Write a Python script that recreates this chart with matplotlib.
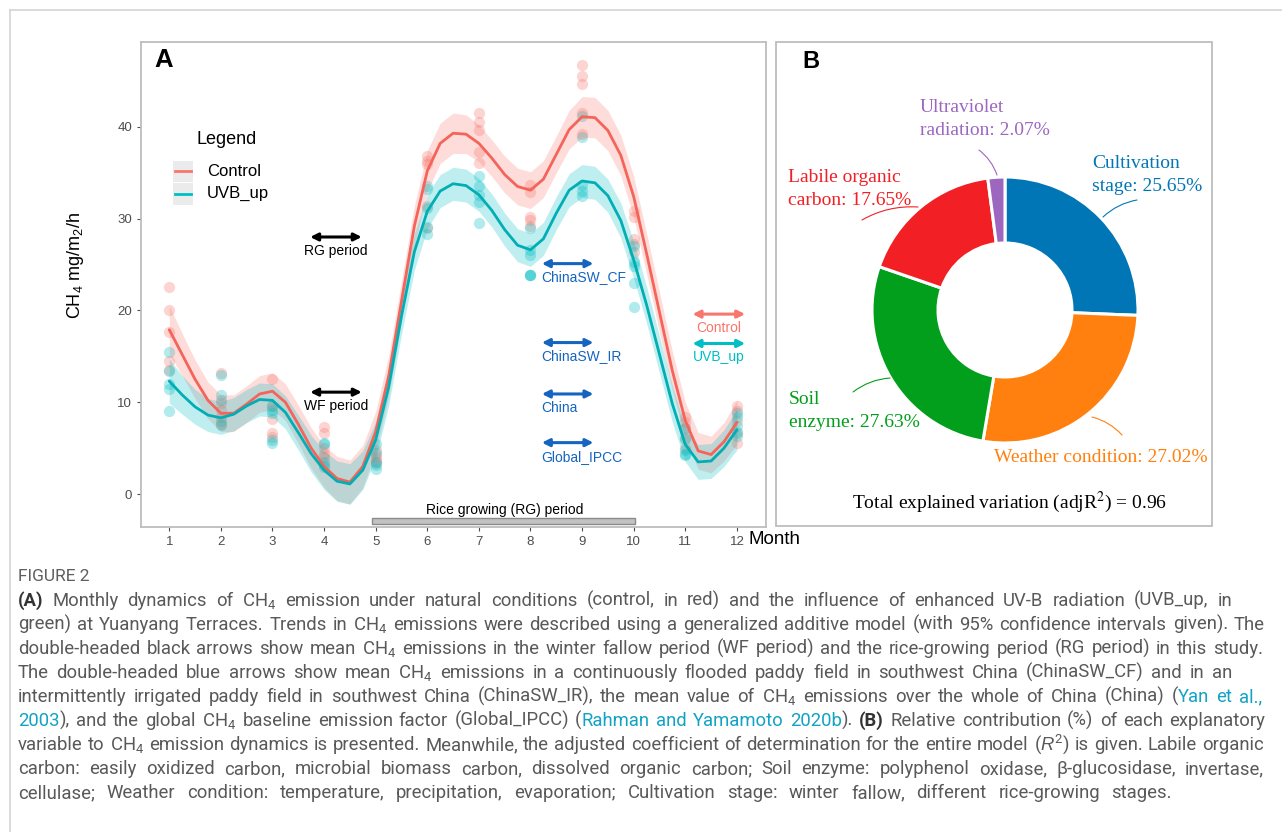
import matplotlib
matplotlib.use("Agg")
import matplotlib.pyplot as plt
import numpy as np
from matplotlib import font_manager as fm
from matplotlib.patches import Rectangle

# ---------------- data ----------------
months = list(range(1, 13))

# monthly CH4 flux observations (mg/m2/h)
control_obs = [
    [22.6, 20.0, 17.6, 14.5, 13.5],
    [13.2, 9.9, 9.2, 8.4, 7.6],
    [12.5, 9.6, 8.2, 6.6, 6.2],
    [7.3, 6.6, 5.0, 4.4, 4.0],
    [4.8, 4.2, 3.9, 3.6, 3.4],
    [36.8, 36.3, 35.9, 31.4, 29.0],
    [41.5, 40.5, 39.6, 37.3, 36.1],
    [33.7, 32.9, 30.2, 29.8, 29.2],
    [46.7, 45.5, 44.7, 41.5, 39.2],
    [30.8, 30.2, 27.8, 27.2, 26.4],
    [8.4, 7.8, 7.2, 6.1, 5.0],
    [9.6, 9.0, 8.0, 6.6, 5.6],
]
uvb_obs = [
    [15.5, 13.4, 12.0, 11.4, 9.1],
    [13.0, 10.8, 10.2, 8.0, 7.5],
    [9.6, 9.2, 8.8, 5.9, 5.6],
    [5.6, 5.4, 3.5, 3.2, 2.9],
    [5.5, 4.5, 3.5, 3.2, 2.7],
    [33.6, 33.2, 31.2, 29.1, 28.3],
    [34.6, 33.5, 32.6, 31.8, 29.5],
    [29.0, 26.6, 26.0, 23.9, 23.9, 23.9],
    [41.2, 38.9, 33.7, 33.0, 32.5],
    [27.0, 25.3, 24.8, 23.0, 20.4],
    [7.2, 6.0, 4.8, 4.4, 4.2],
    [8.8, 8.4, 7.4, 6.8, 6.3],
]

# GAM fits, one value per quarter month from Jan to Dec
fit_month = np.arange(1.0, 12.01, 0.25)
control_fit = [17.9, 15.2, 12.5, 10.2, 8.8, 8.8, 9.8, 10.9, 11.2, 10.0, 7.6, 5.0,
               3.0, 1.7, 1.3, 3.0, 6.8, 12.8, 21.0, 29.2, 35.2, 38.2, 39.3, 39.2,
               38.2, 36.6, 34.8, 33.5, 33.1, 34.3, 37.0, 39.7, 41.1, 41.0, 39.6,
               36.9, 32.4, 26.2, 19.8, 13.4, 8.0, 4.7, 4.3, 5.7, 7.8]
uvb_fit = [12.3, 10.8, 9.5, 8.6, 8.3, 8.7, 9.6, 10.3, 10.2, 8.9, 6.7, 4.4,
           2.6, 1.4, 1.1, 2.6, 5.9, 11.6, 19.4, 26.4, 30.8, 33.0, 33.8, 33.6,
           32.6, 30.9, 28.8, 27.1, 26.6, 27.8, 30.6, 33.1, 34.1, 33.9, 32.5,
           29.8, 25.5, 20.6, 15.2, 9.8, 5.4, 3.5, 3.6, 5.0, 7.0]
# half width of the 95% confidence band
control_ci = [2.6, 2.3, 2.1, 2.0, 2.0, 2.0, 2.0, 2.0, 2.0, 2.0, 2.1, 2.2,
              2.3, 2.4, 2.4, 2.3, 2.2, 2.2, 2.2, 2.2, 2.2, 2.2, 2.2, 2.1,
              2.0, 2.0, 2.0, 2.0, 2.0, 2.0, 2.0, 2.1, 2.2, 2.2, 2.2, 2.2,
              2.2, 2.2, 2.2, 2.1, 2.0, 2.0, 2.0, 2.1, 2.4]
uvb_ci = [2.4, 2.1, 1.9, 1.8, 1.8, 1.8, 1.8, 1.8, 1.8, 1.8, 1.9, 2.0,
          2.1, 2.2, 2.2, 2.1, 2.0, 2.0, 2.0, 2.0, 1.9, 1.8, 1.8, 1.8,
          1.8, 1.8, 1.8, 1.8, 1.8, 1.8, 1.8, 1.8, 1.8, 1.8, 1.8, 1.9,
          2.0, 2.0, 2.0, 2.0, 1.9, 1.9, 1.9, 2.0, 2.2]

# mean emissions shown as double arrows
period_names = ["RG period", "WF period"]
period_means = [28.0, 11.1]
ref_names = ["ChinaSW_CF", "ChinaSW_IR", "China", "Global_IPCC"]
ref_means = [25.1, 16.5, 10.9, 5.6]
treat_names = ["Control", "UVB_up"]
treat_means = [19.6, 16.4]

# variation partitioning
var_labels = ["Cultivation\nstage: 25.65%", "Weather condition: 27.02%",
              "Soil\nenzyme: 27.63%", "Labile organic\ncarbon: 17.65%",
              "Ultraviolet\nradiation: 2.07%"]
var_share = [25.65, 27.02, 27.63, 17.65, 2.07]
adj_r2 = 0.96

RED = "#F8766D"
CYAN = "#00BFC4"
BLUE = "#1565C0"
PIE_COLORS = ["#0176B6", "#FF800E", "#029F1C", "#F21F24", "#9D67C0"]

SANS = "Liberation Sans"
SERIF = "Liberation Serif"
installed = {f.name for f in fm.fontManager.ttflist}
CAP_FONT = next((f for f in ["Roboto", "Open Sans", "Lato"] if f in installed),
                "DejaVu Sans")

W, H = 1282, 832
fig = plt.figure(figsize=(W / 100, H / 100), dpi=100)
plt.rcParams["mathtext.fontset"] = "custom"
plt.rcParams["mathtext.rm"] = SANS
plt.rcParams["mathtext.it"] = SANS + ":italic"


def fig_box(x0, y0, x1, y1):
    return [x0 / W, 1 - y1 / H, (x1 - x0) / W, (y1 - y0) / H]


# ---------------- panel A ----------------
ax = fig.add_axes(fig_box(141, 42, 766, 527))
ax.set_xlim(0.452, 12.564)
ax.set_ylim(-3.59, 49.24)

for obs, col in [(control_obs, RED), (uvb_obs, CYAN)]:
    xs = [m for m, vals in zip(months, obs) for _ in vals]
    ys = [v for vals in obs for v in vals]
    ax.scatter(xs, ys, s=66, color=col, alpha=0.3, lw=0, zorder=2)

for fit, ci, col, lc in [(control_fit, control_ci, RED, "#F4645A"),
                         (uvb_fit, uvb_ci, CYAN, "#00AEB3")]:
    fit = np.array(fit)
    ci = np.array(ci)
    ax.fill_between(fit_month, fit - ci, fit + ci, color=col, alpha=0.25, lw=0, zorder=3)
    ax.plot(fit_month, fit, color=lc, lw=2.0, zorder=4, solid_capstyle="round",
            solid_joinstyle="round")

for s in ax.spines.values():
    s.set_color("#BDBDBD")
    s.set_linewidth(1.3)
ax.set_xticks(months)
ax.set_yticks([0, 10, 20, 30, 40])
ax.tick_params(colors="#4D4D4D", labelsize=9.5, length=3, width=0.8)
for lab in ax.get_xticklabels() + ax.get_yticklabels():
    lab.set_fontfamily(SANS)
    lab.set_color("#4D4D4D")


def double_arrow(x0, x1, y, color):
    ax.annotate("", xy=(x0, y), xytext=(x1, y),
                arrowprops=dict(arrowstyle="<|-|>", color=color, lw=2.2,
                                mutation_scale=11, shrinkA=0, shrinkB=0),
                zorder=5)


def arrow_label(x, y, text, color, ha="center"):
    ax.annotate(text, xy=(x, y), xytext=(0, -10), textcoords="offset points",
                ha=ha, va="center", fontsize=10, color=color, family=SANS, zorder=5)


for name, val in zip(period_names, period_means):
    double_arrow(3.73, 4.73, val, "black")
    arrow_label(4.23, val, name, "black")
for name, val in zip(ref_names, ref_means):
    double_arrow(8.22, 9.22, val, BLUE)
    arrow_label(8.2, val, name, BLUE, ha="left")
for name, val, col in zip(treat_names, treat_means, [RED, CYAN]):
    double_arrow(11.14, 12.16, val, col)
    arrow_label(11.65, val, name, col)

# rice growing season bar
ax.add_patch(Rectangle((4.93, -3.27), 5.1, 0.62, facecolor="#C2C2C2",
                       edgecolor="#8A8A8A", lw=1, zorder=5, clip_on=False))
ax.text(7.5, -1.75, "Rice growing (RG) period", ha="center", va="center",
        fontsize=10, family=SANS)

# ---------------- panel B ----------------
bx = fig.add_axes(fig_box(776, 42, 1212, 526))
wedges, _ = bx.pie(var_share, colors=PIE_COLORS, startangle=90, counterclock=False,
                   center=(1005, H - 310), radius=133,
                   wedgeprops=dict(width=66, edgecolor="white", linewidth=2.2))
bx.set_xlim(776, 1212)
bx.set_ylim(H - 526, H - 42)
bx.set_aspect("auto")
bx.axis("off")

# ---------------- page overlay (pixel coordinates) ----------------
pg = fig.add_axes([0, 0, 1, 1], zorder=10)
pg.set_xlim(0, W)
pg.set_ylim(H, 0)
pg.axis("off")

pg.plot([10, W], [10, 10], color="#D4D4D4", lw=1.2)
pg.plot([10, 10], [10, H], color="#D4D4D4", lw=1.2)
pg.add_patch(Rectangle((776, 42), 436, 484, fill=False, edgecolor="#BDBDBD", lw=1.3))

pg.text(164, 60, "A", fontsize=18.5, weight="bold", family=SANS, ha="center", va="center")
pg.text(811, 62, "B", fontsize=17, weight="bold", family=SANS, ha="center", va="center")
pg.text(75, 265, "CH$_4$ mg/m$_2$/h", rotation=90, fontsize=13, family=SANS,
        ha="center", va="center")
pg.text(749, 540, "Month", fontsize=13.5, family=SANS, ha="left", va="center")

# legend
pg.text(196, 140, "Legend", fontsize=13, family=SANS, ha="left", va="center")
for y, col, name in [(171, RED, "Control"), (193.5, CYAN, "UVB_up")]:
    pg.add_patch(Rectangle((173, y - 10.5), 20, 21.5, facecolor="#EBEBEB", lw=0))
    pg.plot([175, 191], [y, y], color=col, lw=2)
    pg.text(207, y, name, fontsize=12, family=SANS, ha="left", va="center")

# donut labels with leader lines
label_pos = [(1092, 175), (994, 457), (789, 411), (788, 189), (920, 119)]
leaders = [((1103, 217), (1137, 200)), ((1092, 417), (1122, 435)),
           ((853, 392), (890, 378)), ((862, 220), (918, 207)),
           ((979, 150), (997, 175))]
for lab, col, (x, y), (p0, p1) in zip(var_labels, PIE_COLORS, label_pos, leaders):
    pg.text(x, y, lab, fontsize=14, family=SERIF, color=col, ha="left", va="center",
            linespacing=1.5)
    pg.annotate("", xy=p1, xytext=p0,
                arrowprops=dict(arrowstyle="-", color=col, lw=0.8,
                                connectionstyle="arc3,rad=-0.15", shrinkA=0, shrinkB=0))
pg.text(1010, 502, "Total explained variation (adjR$^2$) = %.2f" % adj_r2,
        fontsize=14, family=SERIF, ha="center", va="center",
        math_fontfamily="stix")

# ---------------- caption ----------------
CAP_GRAY = "#595959"
LINK = "#13A2C6"
CH4 = "CH$_\\mathregular{4}$"
cap_lines = [
    [("(A)", "b"), (" Monthly dynamics of %s emission under natural conditions (control, in red) "
                    "and the influence of enhanced UV-B radiation (UVB_up, in" % CH4, "n")],
    [("green) at Yuanyang Terraces. Trends in %s emissions were described using a generalized "
      "additive model (with 95%% confidence intervals given). The" % CH4, "n")],
    [("double-headed black arrows show mean %s emissions in the winter fallow period (WF period) "
      "and the rice-growing period (RG period) in this study." % CH4, "n")],
    [("The double-headed blue arrows show mean %s emissions in a continuously flooded paddy field "
      "in southwest China (ChinaSW_CF) and in an" % CH4, "n")],
    [("intermittently irrigated paddy field in southwest China (ChinaSW_IR), the mean value of %s "
      "emissions over the whole of China (China) (" % CH4, "n"), ("Yan et al.,", "l")],
    [("2003", "l"), ("), and the global %s baseline emission factor (Global_IPCC) (" % CH4, "n"),
     ("Rahman and Yamamoto 2020b", "l"), (").", "n"), (" (B)", "b"),
     (" Relative contribution (%) of each explanatory", "n")],
    [("variable to %s emission dynamics is presented. Meanwhile, the adjusted coefficient of "
      "determination for the entire model ($\\mathit{R}^\\mathregular{2}$) is given. "
      "Labile organic" % CH4, "n")],
    [("carbon: easily oxidized carbon, microbial biomass carbon, dissolved organic carbon; "
      "Soil enzyme: polyphenol oxidase, \u03b2-glucosidase, invertase,", "n")],
    [("cellulase; Weather condition: temperature, precipitation, evaporation; "
      "Cultivation stage: winter fallow, different rice-growing stages.", "n")],
]
line_end = [1232, 1265, 1263, 1232, 1262, 1265, 1264, 1264, 1172]
CAP_X0 = 18

pg.text(CAP_X0, 581, "FIGURE 2", fontsize=12.5, family=CAP_FONT, color="#5E5E5E",
        ha="left", va="baseline")

# split every line into words made of styled pieces
words_per_line = []
for segs in cap_lines:
    words = [[]]
    for text, kind in segs:
        parts = text.split(" ")
        for i, p in enumerate(parts):
            if i > 0:
                words.append([])
            if p:
                words[-1].append((p, kind))
    words_per_line.append([w for w in words if w])

style = {"n": dict(color=CAP_GRAY), "b": dict(color="#333333", weight="bold"),
         "l": dict(color=LINK)}
renderer = fig.canvas.get_renderer()


def make_pieces(size):
    out = []
    for words in words_per_line:
        lw = []
        for w in words:
            lw.append([pg.text(0, 0, p, fontsize=size, family=CAP_FONT, ha="left",
                               va="baseline", **style[k]) for p, k in w])
        out.append(lw)
    return out


def width_of(t):
    return t.get_window_extent(renderer).width


base = 12.0
probe = pg.text(0, 0, "x x", fontsize=base, family=CAP_FONT)
probe2 = pg.text(0, 0, "xx", fontsize=base, family=CAP_FONT)
space_w = width_of(probe) - width_of(probe2)
probe.remove()
probe2.remove()

pieces = make_pieces(base)
ratio = []
for lw, end in zip(pieces, line_end):
    natural = sum(width_of(t) for w in lw for t in w) + space_w * (len(lw) - 1)
    ratio.append((end - CAP_X0) / natural)
for lw in pieces:
    for w in lw:
        for t in w:
            t.remove()

size = min(base * min(ratio) * 0.99, 14.0)
pieces = make_pieces(size)
for k, (lw, end) in enumerate(zip(pieces, line_end)):
    widths = [[width_of(t) for t in w] for w in lw]
    total = sum(sum(w) for w in widths)
    gap = (end - CAP_X0 - total) / (len(lw) - 1)
    x = CAP_X0
    y = 606 + 24 * k
    for w, ws in zip(lw, widths):
        for t, tw in zip(w, ws):
            t.set_position((x, y))
            x += tw
        x += gap

fig.savefig("out.png", dpi=100)
